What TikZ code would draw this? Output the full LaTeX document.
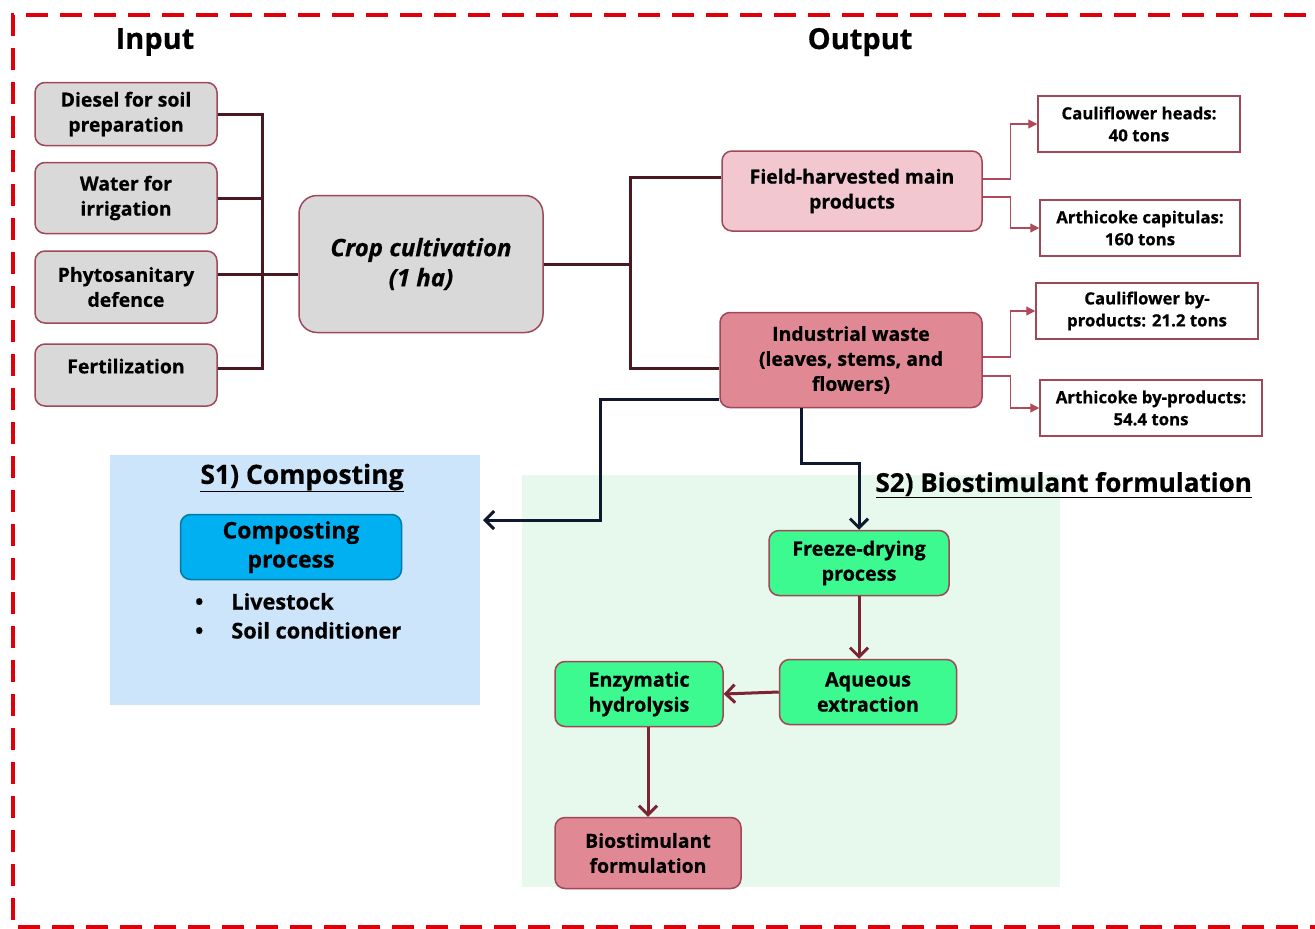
\documentclass[tikz,border=0pt]{standalone}
\usepackage{fontspec}
\setmainfont{Open Sans}[BoldFeatures={FakeBold=0.6}, BoldItalicFeatures={FakeBold=0.6}]
\usetikzlibrary{positioning,arrows.meta}

\definecolor{frameRed}{HTML}{E0000A}
\definecolor{boxEdge}{HTML}{A04858}
\definecolor{greyFill}{HTML}{D9D9D9}
\definecolor{pinkLight}{HTML}{F2C7CF}
\definecolor{pinkDark}{HTML}{E08995}
\definecolor{wireBrown}{HTML}{4A1820}
\definecolor{wireNavy}{HTML}{101830}
\definecolor{wineRed}{HTML}{7C2434}
\definecolor{thinRed}{HTML}{B04A5A}
\definecolor{skyPanel}{HTML}{CDE5FB}
\definecolor{mintPanel}{HTML}{E7F8EC}
\definecolor{cyanBox}{HTML}{00B0F0}
\definecolor{greenBox}{HTML}{3CF990}

\newcommand{\fs}[2]{\fontsize{#1}{#2}\selectfont}

\tikzset{
  box/.style={draw=boxEdge, line width=1.5pt, rounded corners=10pt, align=center,
    inner sep=0pt, font=\bfseries\fs{19.4}{25}},
  inbox/.style={box, fill=greyFill, minimum width=182pt},
  resbox/.style={draw=boxEdge, line width=1.5pt, fill=white, align=center, inner sep=0pt,
    minimum height=56pt, font=\bfseries\fs{16.8}{22}},
  stepbox/.style={box, fill=greenBox, minimum height=65pt, font=\bfseries\fs{19.8}{25}},
  headline/.style={font=\bfseries\fs{29}{32}},
  wire/.style={draw=wireBrown, line width=3pt},
  navywire/.style={draw=wireNavy, line width=3pt, -{Straight Barb[length=9pt,width=18pt]}},
  winewire/.style={draw=wineRed, line width=3pt, -{Straight Barb[length=9pt,width=18pt]}},
  thinwire/.style={draw=thinRed, line width=1.2pt, -{Triangle[length=9pt,width=9pt]}}
}

\begin{document}
\begin{tikzpicture}[x=1pt,y=-1pt]
  \useasboundingbox (0,0) rectangle (1315,929);
  % scenario panels
  \fill[skyPanel] (110,455) rectangle (480,705);
  \fill[mintPanel] (522,475) rectangle (1060,887);
  \draw[frameRed, line width=4pt, dash pattern=on 22pt off 12pt]
    (1340,15) -- (13,15) -- (13,927) -- (1340,927);

  \node[headline] (inTitle) at (155,42) {Input};
  \node[headline] (outTitle) at (860,42) {Output};

  % inputs
  \node[inbox, minimum height=63pt] (diesel) at (126,114) {Diesel for soil\\preparation};
  \node[inbox, minimum height=71pt] (water) at (126,198) {Water for\\irrigation};
  \node[inbox, minimum height=72pt] (phyto) at (126,287) {Phytosanitary\\defence};
  \node[inbox, minimum height=62pt, text depth=18pt] (fert) at (126,375) {Fertilization};

  \node[box, fill=greyFill, minimum width=244pt, minimum height=137pt, rounded corners=18pt,
    font=\bfseries\itshape\fs{24}{30}] (crop) at (421,264) {Crop cultivation\\(1 ha)};

  % outputs
  \node[box, fill=pinkLight, minimum width=260pt, minimum height=80pt] (field) at (852,191)
    {Field-harvested main\\products};
  \node[box, fill=pinkDark, minimum width=262pt, minimum height=95pt] (waste) at (851,360)
    {Industrial waste\\(leaves, stems, and\\flowers)};
  \node[resbox, minimum width=202pt] (heads) at (1139,124) {Cauliflower heads:\\40 tons};
  \node[resbox, minimum width=200pt] (capit) at (1140,228) {Arthicoke capitulas:\\160 tons};
  \node[resbox, minimum width=222pt] (cauliBy) at (1147,311) {Cauliflower by-\\products: 21.2 tons};
  \node[resbox, minimum width=222pt] (artiBy) at (1151,408) {Arthicoke by-products:\\54.4 tons};

  % S1
  \node[font=\bfseries\fs{26.5}{30}] (s1Title) at (302,478) {\underline{S1) Composting}};
  \node[box, draw=cyanBox!70!black, fill=cyanBox, minimum width=221pt, minimum height=65pt,
    font=\bfseries\fs{23}{29}] (compost) at (291,547) {Composting\\process};
  \node[anchor=north west, font=\bfseries\fs{21.7}{29}, inner sep=0pt] (uses) at (195,589)
    {\begin{tabular}{@{}l@{\hspace{28pt}}l@{}}\textbullet & Livestock\\ \textbullet & Soil conditioner\end{tabular}};
  \coordinate (s1in) at (483,520);

  % S2
  \node[anchor=west, font=\bfseries\fs{26}{30}] (s2Title) at (872,485) {\underline{S2) Biostimulant formulation}};
  \node[stepbox, minimum width=180pt] (freeze) at (859,563) {Freeze-drying\\process};
  \node[stepbox, minimum width=177pt] (aqueous) at (868,692) {Aqueous\\extraction};
  \node[stepbox, minimum width=168pt] (enzy) at (639,694) {Enzymatic\\hydrolysis};
  \node[box, fill=pinkDark, minimum width=186pt, minimum height=71pt] (bio) at (648,853)
    {Biostimulant\\formulation};

  % connectors
  \coordinate (busL) at (262,274);
  \draw[wire] (diesel.east) -| (busL |- 0,368) -- ([yshift=7pt]fert.east);
  \draw[wire] (water.east) -- (water.east -| busL);
  \draw[wire] ([yshift=13pt]phyto.east) -- (crop.west |- busL);
  \draw[wire] (crop.east) -- (630,264) coordinate (busR);
  \draw[wire] ([yshift=14pt]field.west) -| (busR);
  \draw[wire] ([yshift=-8pt]waste.west) -| (busR);

  \draw[thinwire] ([yshift=12pt]field.east) -- ++(28,0) |- (heads.west);
  \draw[thinwire] ([yshift=-6pt]field.east) -- ++(28,0) |- (capit.west);
  \draw[thinwire] ([yshift=3pt]waste.east) -- ++(28,0) |- (cauliBy.west);
  \draw[thinwire] ([yshift=-16pt]waste.east) -- ++(28,0) |- (artiBy.west);

  \draw[navywire] ([yshift=-39pt]waste.west) -| (600,520) -- (s1in);
  \draw[navywire] ([xshift=-50pt]waste.south) -- ++(0,55) -| (freeze.north);

  \draw[winewire] (freeze.south) -- (freeze.south |- aqueous.north);
  \draw[winewire] (aqueous.west) -- (enzy.east);
  \draw[winewire] (enzy.south -| bio.north) -- (bio.north);
\end{tikzpicture}
\end{document}
